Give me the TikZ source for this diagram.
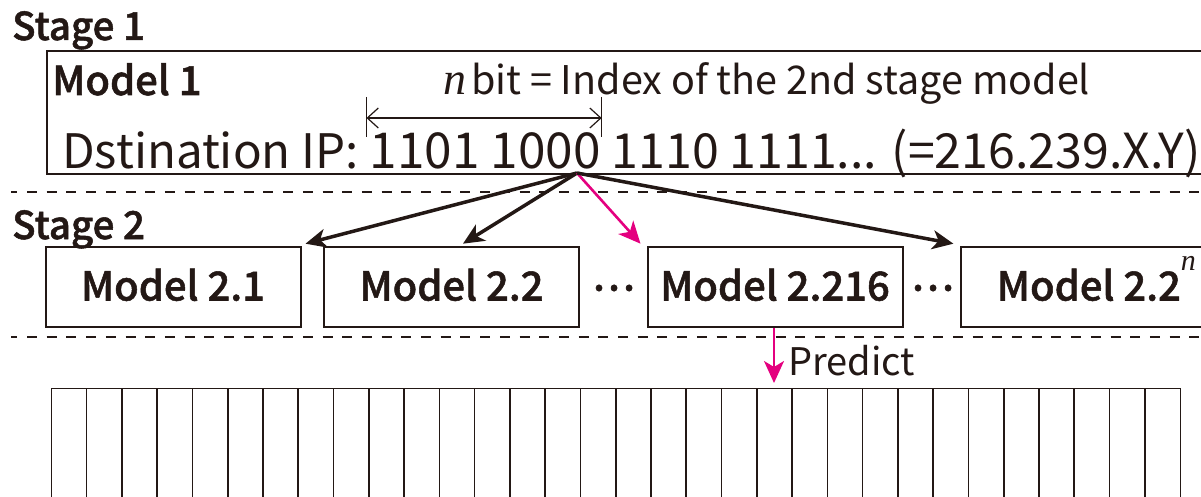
\documentclass[tikz,border=0pt]{standalone}
\usepackage{fontspec}
\setmainfont{Noto Sans CJK JP}[BoldFont={Noto Sans CJK JP Medium}, BoldFeatures={FakeBold=1.3}]
\newfontfamily\timesfam{Liberation Serif}
\usetikzlibrary{arrows.meta,calc}

\definecolor{ink}{HTML}{231815}
\definecolor{hot}{HTML}{E4007F}
\newcommand\fsz[1]{\fontsize{#1}{#1}\selectfont}

\tikzset{
  lbl/.style={inner sep=0pt, anchor=base west, text=ink},
  modelbox/.style={draw=ink, line width=2pt, inner sep=0pt,
    minimum width=255pt, minimum height=80.6pt,
    text height=27pt, text depth=0pt, text=ink, font=\fsz{40}\bfseries},
  sep/.style={draw=ink, line width=1.6pt, dash pattern=on 10pt off 9.7pt, dash phase=3.7pt},
  fan/.style={draw=ink, line width=3.5pt, -{Stealth[length=21pt,width=19pt,inset=6pt]}},
  pick/.style={draw=hot, line width=2.6pt, -{Stealth[length=22pt,width=20pt,inset=6pt]}},
  span/.style={draw=ink, line width=1.2pt, {Straight Barb[length=11pt,width=20pt]}-{Straight Barb[length=11pt,width=20pt]}},
  tick/.style={draw=ink, line width=1.2pt},
  cell/.style={draw=ink, line width=1.6pt},
  ellip/.style={inner sep=0pt, anchor=center, text=ink, font=\fsz{40}\bfseries},
}

\begin{document}
\begin{tikzpicture}[x=1pt, y=-1pt]
\useasboundingbox (0,0) rectangle (1201,497);
\clip (0,0) rectangle (1201,497);

% ---------- stage 1 ----------
\node[lbl, font=\fsz{38.5}\bfseries] (s1) at (12,40) {Stage 1};
\node[draw=ink, line width=2pt, inner sep=0pt, minimum width=1170pt,
      minimum height=123pt, anchor=north west] (m1) at (45.5,50) {};
\node[lbl, font=\fsz{40}\bfseries] (m1t) at (52,95) {Model 1};
\node[lbl, font=\fsz{39.5}] (nbit) at (443,95)
  {{\fsz{46}\timesfam\itshape n}\hspace{5pt}bit = Index of the 2nd stage model};

\node[lbl, font=\fsz{47.5}] (ipa) at (62,168) {Dstination IP:\ \null};
\node[lbl, font=\fsz{49.5}] (ipb) at (ipa.base east) {1101 1000};
\node[lbl, font=\fsz{48.3}] (ipc) at (ipb.base east) {\ 1110 1111... (=216.239.X.Y)};

\coordinate (la) at ($(ipb.base west)+(-3,0)$);
\coordinate (lb) at ($(ipb.base east)+(1,0)$);
\draw[tick] (la |- 0,97) -- (la |- 0,137);
\draw[tick] (lb |- 0,97) -- (lb |- 0,137);
\draw[span] (la |- 0,118) -- (lb |- 0,118);

\draw[sep] (11,192) -- (1201,192);

% ---------- stage 2 ----------
\node[lbl, font=\fsz{38.5}\bfseries] (s2) at (12,239) {Stage 2};
\node[modelbox] (m21)  at (173,287)    {Model 2.1};
\node[modelbox] (m22)  at (451.5,287)  {Model 2.2};
\node[ellip]    (d1)   at (613.5,288)  {…};
\node[modelbox] (m216) at (775,287)    {Model 2.216};
\node[ellip]    (d2)   at (932.5,288)  {…};
\node[modelbox, minimum width=270pt] (m2n) at (1096.4,287)
  {Model 2.2\raisebox{30pt}{\fsz{30}\mdseries\timesfam\itshape n}};

\coordinate (src) at (577,173);
\draw[fan]  (src) -- ($(m21.north east)+(4,-2)$);
\draw[fan]  (src) -- ($(m22.north)+(11.5,-2)$);
\draw[pick] (src) -- ($(m216.north west)+(-6,-2)$);
\draw[fan]  (src) -- ($(m2n.north west)+(-7,-2)$);

\draw[sep] (11,337) -- (1201,337);

% ---------- predicted position ----------
\node[inner sep=0pt, minimum width=1128.6pt, minimum height=130pt,
      anchor=north west] (arr) at (51.4,388.3) {};
\draw[cell] (arr.south west) -- (arr.north west) -- (arr.north east) -- (arr.south east);
\foreach \i in {1,...,31}
  \draw[cell] ($(arr.north west)+(\i*35.27,0)$) -- ++(0,130);

\coordinate (hit) at (774,383);
\draw[pick] (m216.south -| hit) -- (hit);
\node[lbl, font=\fsz{38}] (pred) at (788,375) {Predict};
\end{tikzpicture}
\end{document}
